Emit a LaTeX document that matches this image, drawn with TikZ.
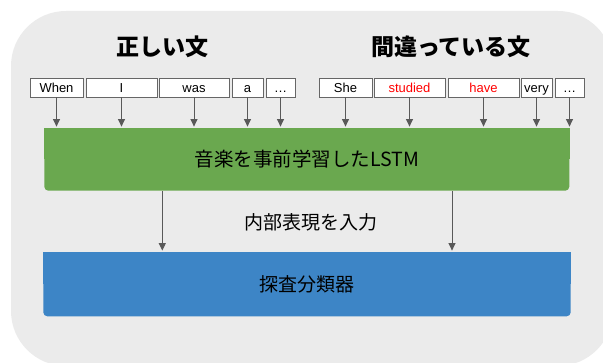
\documentclass[tikz,border=0pt]{standalone}
\usepackage{fontspec}
\setmainfont{Liberation Sans}
\newfontfamily\cjk{Noto Sans CJK JP}
\usetikzlibrary{arrows.meta,backgrounds}
\definecolor{bggray}{HTML}{EBEBEB}
\definecolor{lstmgreen}{HTML}{6AA84F}
\definecolor{probeblue}{HTML}{3D85C6}
\definecolor{arrowgray}{HTML}{595959}
\definecolor{boxgray}{HTML}{666666}
\definecolor{wrongred}{HTML}{FF0000}
\tikzset{
  word/.style={draw=boxgray, line width=0.8pt, fill=white, minimum height=19pt,
    inner sep=0pt, text height=11pt, text depth=0.6pt,
    font=\fontsize{13}{13}\selectfont, text=black},
  flow/.style={draw=arrowgray, line width=1pt, -{Triangle[length=7.5pt,width=7pt]}, shorten >=1.5pt},
  block/.style={rounded corners=4pt, inner sep=0pt},
  title/.style={font=\cjk\bfseries\fontsize{23}{23}\selectfont, text=black},
}
\begin{document}
\begin{tikzpicture}[x=1pt,y=-1pt]
\useasboundingbox (0,0) rectangle (603,363);
% titles
\node[title] (t1) at (162,47) {正しい文};
\node[title] (t2) at (451,47) {間違っている文};
% word boxes
\node[word, minimum width=53pt] (w1) at (56.5,87.5) {When};
\node[word, minimum width=71pt] (w2) at (121.5,87.5) {I};
\node[word, minimum width=70pt] (w3) at (194,87.5) {was};
\node[word, minimum width=31pt] (w4) at (247.5,87.5) {a};
\node[word, minimum width=29pt] (w5) at (280.5,87.5) {…};
\node[word, minimum width=53pt] (v1) at (345.5,87.5) {She};
\node[word, minimum width=71pt, text=wrongred] (v2) at (409.5,87.5) {studied};
\node[word, minimum width=71pt, text=wrongred] (v3) at (483.5,87.5) {have};
\node[word, minimum width=31pt] (v4) at (536.5,87.5) {very};
\node[word, minimum width=29pt] (v5) at (569.5,87.5) {…};
% blocks
\node[block, fill=lstmgreen, minimum width=525pt, minimum height=62.4pt,
  font=\cjk\fontsize{19.5}{19.5}\selectfont] (lstm) at (306.8,159.5) {音楽を事前学習したLSTM};
\node[block, fill=probeblue, minimum width=527.4pt, minimum height=64pt,
  font=\cjk\fontsize{19}{19}\selectfont] (probe) at (307,284.3) {探査分類器};
\node[font=\cjk\fontsize{19}{19}\selectfont] (lbl) at (311,222) {内部表現を入力};
% background
\begin{pgfonlayer}{background}
  \fill[bggray, rounded corners=55pt] (11,11) rectangle (613,366);
  \fill[lstmgreen] (lstm.north west) rectangle (lstm.east);
  \fill[probeblue] (probe.north west) rectangle (probe.east);
\end{pgfonlayer}
% arrows
\foreach \n in {w1,w2,w3,w4,w5,v1,v2,v3,v4,v5}{
  \draw[flow] (\n.south) -- (\n.south |- lstm.north);
}
\coordinate (m1) at (162.3,191.5);
\coordinate (m2) at (452,191.5);
\draw[flow] (m1) -- (m1 |- probe.north);
\draw[flow] (m2) -- (m2 |- probe.north);
\end{tikzpicture}
\end{document}
